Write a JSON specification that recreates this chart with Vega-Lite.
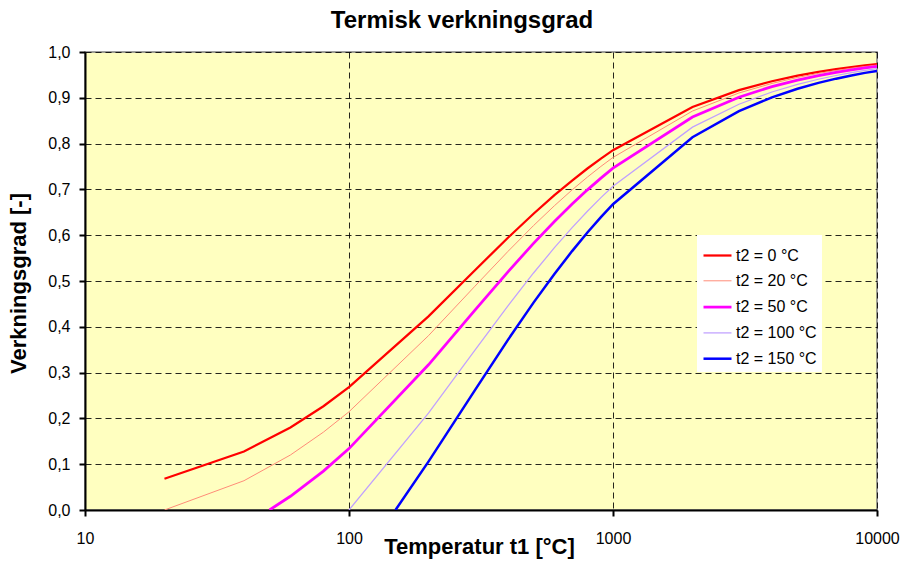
{
  "$schema": "https://vega.github.io/schema/vega-lite/v6.json",
  "width": 792,
  "height": 458,
  "autosize": {"type": "none"},
  "padding": {"left": 85, "top": 52, "right": 26, "bottom": 51},
  "background": "white",
  "title": {"text": "Termisk verkningsgrad", "font": "Liberation Sans", "fontSize": 24, "fontWeight": "bold", "color": "black", "anchor": "middle", "dx": -19, "offset": 11},
  "data": {"values": [
    {"t1": 20, "eta": 0.0683, "serie": "t2 = 0 °C"},
    {"t1": 40, "eta": 0.1278, "serie": "t2 = 0 °C"},
    {"t1": 60, "eta": 0.1802, "serie": "t2 = 0 °C"},
    {"t1": 80, "eta": 0.2266, "serie": "t2 = 0 °C"},
    {"t1": 100, "eta": 0.2681, "serie": "t2 = 0 °C"},
    {"t1": 200, "eta": 0.4228, "serie": "t2 = 0 °C"},
    {"t1": 300, "eta": 0.5236, "serie": "t2 = 0 °C"},
    {"t1": 400, "eta": 0.5944, "serie": "t2 = 0 °C"},
    {"t1": 500, "eta": 0.6468, "serie": "t2 = 0 °C"},
    {"t1": 600, "eta": 0.6873, "serie": "t2 = 0 °C"},
    {"t1": 700, "eta": 0.7194, "serie": "t2 = 0 °C"},
    {"t1": 800, "eta": 0.7456, "serie": "t2 = 0 °C"},
    {"t1": 900, "eta": 0.7673, "serie": "t2 = 0 °C"},
    {"t1": 1000, "eta": 0.7856, "serie": "t2 = 0 °C"},
    {"t1": 2000, "eta": 0.8799, "serie": "t2 = 0 °C"},
    {"t1": 3000, "eta": 0.9166, "serie": "t2 = 0 °C"},
    {"t1": 4000, "eta": 0.9361, "serie": "t2 = 0 °C"},
    {"t1": 5000, "eta": 0.9482, "serie": "t2 = 0 °C"},
    {"t1": 6000, "eta": 0.9565, "serie": "t2 = 0 °C"},
    {"t1": 7000, "eta": 0.9625, "serie": "t2 = 0 °C"},
    {"t1": 8000, "eta": 0.9670, "serie": "t2 = 0 °C"},
    {"t1": 9000, "eta": 0.9706, "serie": "t2 = 0 °C"},
    {"t1": 10000, "eta": 0.9734, "serie": "t2 = 0 °C"},
    {"t1": 20, "eta": 0.0, "serie": "t2 = 20 °C"},
    {"t1": 40, "eta": 0.0639, "serie": "t2 = 20 °C"},
    {"t1": 60, "eta": 0.1201, "serie": "t2 = 20 °C"},
    {"t1": 80, "eta": 0.1700, "serie": "t2 = 20 °C"},
    {"t1": 100, "eta": 0.2145, "serie": "t2 = 20 °C"},
    {"t1": 200, "eta": 0.3806, "serie": "t2 = 20 °C"},
    {"t1": 300, "eta": 0.4887, "serie": "t2 = 20 °C"},
    {"t1": 400, "eta": 0.5646, "serie": "t2 = 20 °C"},
    {"t1": 500, "eta": 0.6210, "serie": "t2 = 20 °C"},
    {"t1": 600, "eta": 0.6644, "serie": "t2 = 20 °C"},
    {"t1": 700, "eta": 0.6989, "serie": "t2 = 20 °C"},
    {"t1": 800, "eta": 0.7269, "serie": "t2 = 20 °C"},
    {"t1": 900, "eta": 0.7502, "serie": "t2 = 20 °C"},
    {"t1": 1000, "eta": 0.7698, "serie": "t2 = 20 °C"},
    {"t1": 2000, "eta": 0.8711, "serie": "t2 = 20 °C"},
    {"t1": 3000, "eta": 0.9105, "serie": "t2 = 20 °C"},
    {"t1": 4000, "eta": 0.9314, "serie": "t2 = 20 °C"},
    {"t1": 5000, "eta": 0.9444, "serie": "t2 = 20 °C"},
    {"t1": 6000, "eta": 0.9533, "serie": "t2 = 20 °C"},
    {"t1": 7000, "eta": 0.9597, "serie": "t2 = 20 °C"},
    {"t1": 8000, "eta": 0.9646, "serie": "t2 = 20 °C"},
    {"t1": 9000, "eta": 0.9684, "serie": "t2 = 20 °C"},
    {"t1": 10000, "eta": 0.9715, "serie": "t2 = 20 °C"},
    {"t1": 50, "eta": 0.0, "serie": "t2 = 50 °C"},
    {"t1": 60, "eta": 0.0300, "serie": "t2 = 50 °C"},
    {"t1": 80, "eta": 0.0850, "serie": "t2 = 50 °C"},
    {"t1": 100, "eta": 0.1340, "serie": "t2 = 50 °C"},
    {"t1": 200, "eta": 0.3171, "serie": "t2 = 50 °C"},
    {"t1": 300, "eta": 0.4363, "serie": "t2 = 50 °C"},
    {"t1": 400, "eta": 0.5201, "serie": "t2 = 50 °C"},
    {"t1": 500, "eta": 0.5822, "serie": "t2 = 50 °C"},
    {"t1": 600, "eta": 0.6300, "serie": "t2 = 50 °C"},
    {"t1": 700, "eta": 0.6680, "serie": "t2 = 50 °C"},
    {"t1": 800, "eta": 0.6990, "serie": "t2 = 50 °C"},
    {"t1": 900, "eta": 0.7246, "serie": "t2 = 50 °C"},
    {"t1": 1000, "eta": 0.7463, "serie": "t2 = 50 °C"},
    {"t1": 2000, "eta": 0.8579, "serie": "t2 = 50 °C"},
    {"t1": 3000, "eta": 0.9013, "serie": "t2 = 50 °C"},
    {"t1": 4000, "eta": 0.9244, "serie": "t2 = 50 °C"},
    {"t1": 5000, "eta": 0.9387, "serie": "t2 = 50 °C"},
    {"t1": 6000, "eta": 0.9485, "serie": "t2 = 50 °C"},
    {"t1": 7000, "eta": 0.9556, "serie": "t2 = 50 °C"},
    {"t1": 8000, "eta": 0.9610, "serie": "t2 = 50 °C"},
    {"t1": 9000, "eta": 0.9652, "serie": "t2 = 50 °C"},
    {"t1": 10000, "eta": 0.9686, "serie": "t2 = 50 °C"},
    {"t1": 100, "eta": 0.0, "serie": "t2 = 100 °C"},
    {"t1": 200, "eta": 0.2114, "serie": "t2 = 100 °C"},
    {"t1": 300, "eta": 0.3490, "serie": "t2 = 100 °C"},
    {"t1": 400, "eta": 0.4458, "serie": "t2 = 100 °C"},
    {"t1": 500, "eta": 0.5175, "serie": "t2 = 100 °C"},
    {"t1": 600, "eta": 0.5727, "serie": "t2 = 100 °C"},
    {"t1": 700, "eta": 0.6167, "serie": "t2 = 100 °C"},
    {"t1": 800, "eta": 0.6524, "serie": "t2 = 100 °C"},
    {"t1": 900, "eta": 0.6820, "serie": "t2 = 100 °C"},
    {"t1": 1000, "eta": 0.7070, "serie": "t2 = 100 °C"},
    {"t1": 2000, "eta": 0.8359, "serie": "t2 = 100 °C"},
    {"t1": 3000, "eta": 0.8860, "serie": "t2 = 100 °C"},
    {"t1": 4000, "eta": 0.9127, "serie": "t2 = 100 °C"},
    {"t1": 5000, "eta": 0.9293, "serie": "t2 = 100 °C"},
    {"t1": 6000, "eta": 0.9405, "serie": "t2 = 100 °C"},
    {"t1": 7000, "eta": 0.9487, "serie": "t2 = 100 °C"},
    {"t1": 8000, "eta": 0.9549, "serie": "t2 = 100 °C"},
    {"t1": 9000, "eta": 0.9598, "serie": "t2 = 100 °C"},
    {"t1": 10000, "eta": 0.9637, "serie": "t2 = 100 °C"},
    {"t1": 150, "eta": 0.0, "serie": "t2 = 150 °C"},
    {"t1": 200, "eta": 0.1057, "serie": "t2 = 150 °C"},
    {"t1": 300, "eta": 0.2618, "serie": "t2 = 150 °C"},
    {"t1": 400, "eta": 0.3715, "serie": "t2 = 150 °C"},
    {"t1": 500, "eta": 0.4528, "serie": "t2 = 150 °C"},
    {"t1": 600, "eta": 0.5155, "serie": "t2 = 150 °C"},
    {"t1": 700, "eta": 0.5653, "serie": "t2 = 150 °C"},
    {"t1": 800, "eta": 0.6058, "serie": "t2 = 150 °C"},
    {"t1": 900, "eta": 0.6394, "serie": "t2 = 150 °C"},
    {"t1": 1000, "eta": 0.6677, "serie": "t2 = 150 °C"},
    {"t1": 2000, "eta": 0.8139, "serie": "t2 = 150 °C"},
    {"t1": 3000, "eta": 0.8708, "serie": "t2 = 150 °C"},
    {"t1": 4000, "eta": 0.9010, "serie": "t2 = 150 °C"},
    {"t1": 5000, "eta": 0.9198, "serie": "t2 = 150 °C"},
    {"t1": 6000, "eta": 0.9326, "serie": "t2 = 150 °C"},
    {"t1": 7000, "eta": 0.9418, "serie": "t2 = 150 °C"},
    {"t1": 8000, "eta": 0.9489, "serie": "t2 = 150 °C"},
    {"t1": 9000, "eta": 0.9544, "serie": "t2 = 150 °C"},
    {"t1": 10000, "eta": 0.9588, "serie": "t2 = 150 °C"}
  ]},
  "mark": {"type": "line", "clip": true},
  "encoding": {
    "x": {
      "field": "t1", "type": "quantitative",
      "scale": {"type": "log", "domain": [10, 10000], "nice": false},
      "axis": {
        "title": "Temperatur t1 [°C]",
        "values": [10, 100, 1000, 10000],
        "format": "d",
        "grid": true,
        "labelPadding": 14,
        "titleY": 43,
        "titleX": 394,
        "titleBaseline": "alphabetic"
      }
    },
    "y": {
      "field": "eta", "type": "quantitative",
      "scale": {"domain": [0, 1], "nice": false, "zero": true},
      "axis": {
        "title": "Verkningsgrad [-]",
        "values": [0, 0.1, 0.2, 0.3, 0.4, 0.5, 0.6, 0.7, 0.8, 0.9, 1.0],
        "labelExpr": "replace(format(datum.value, '.1f'), '.', ',')",
        "grid": true,
        "labelPadding": 9,
        "titleX": -60,
        "titleY": 231,
        "titleBaseline": "alphabetic"
      }
    },
    "color": {
      "field": "serie", "type": "nominal",
      "scale": {
        "domain": ["t2 = 0 °C", "t2 = 20 °C", "t2 = 50 °C", "t2 = 100 °C", "t2 = 150 °C"],
        "range": ["#FF0000", "#FF8C78", "#FF00FF", "#C0A0FF", "#0000FF"]
      },
      "legend": {"title": null}
    },
    "strokeWidth": {
      "field": "serie", "type": "nominal",
      "scale": {
        "type": "ordinal",
        "domain": ["t2 = 0 °C", "t2 = 20 °C", "t2 = 50 °C", "t2 = 100 °C", "t2 = 150 °C"],
        "range": [2.25, 1, 2.75, 1.25, 2.5]
      },
      "legend": {"title": null}
    }
  },
  "config": {
    "font": "Liberation Sans",
    "view": {"fill": "#FFFFC0", "stroke": "#808080", "strokeWidth": 1.5},
    "axis": {
      "labelFont": "Liberation Sans",
      "labelFontSize": 16,
      "labelColor": "black",
      "titleFont": "Liberation Sans",
      "titleFontSize": 22,
      "titleFontWeight": "bold",
      "titleColor": "black",
      "domainColor": "black",
      "domainWidth": 2,
      "tickColor": "black",
      "tickWidth": 2,
      "tickSize": 6,
      "gridColor": "#000000",
      "gridOpacity": 0.85,
      "gridDash": [6, 4],
      "gridWidth": 1,
      "labelFlush": false,
      "labelOverlap": false
    },
    "legend": {
      "orient": "none",
      "legendX": 612,
      "legendY": 183,
      "fillColor": "white",
      "padding": 5,
      "symbolType": "stroke",
      "symbolSize": 784,
      "labelFont": "Liberation Sans",
      "labelFontSize": 16,
      "labelColor": "black",
      "labelOffset": 3,
      "rowPadding": 2.3
    }
  }
}
